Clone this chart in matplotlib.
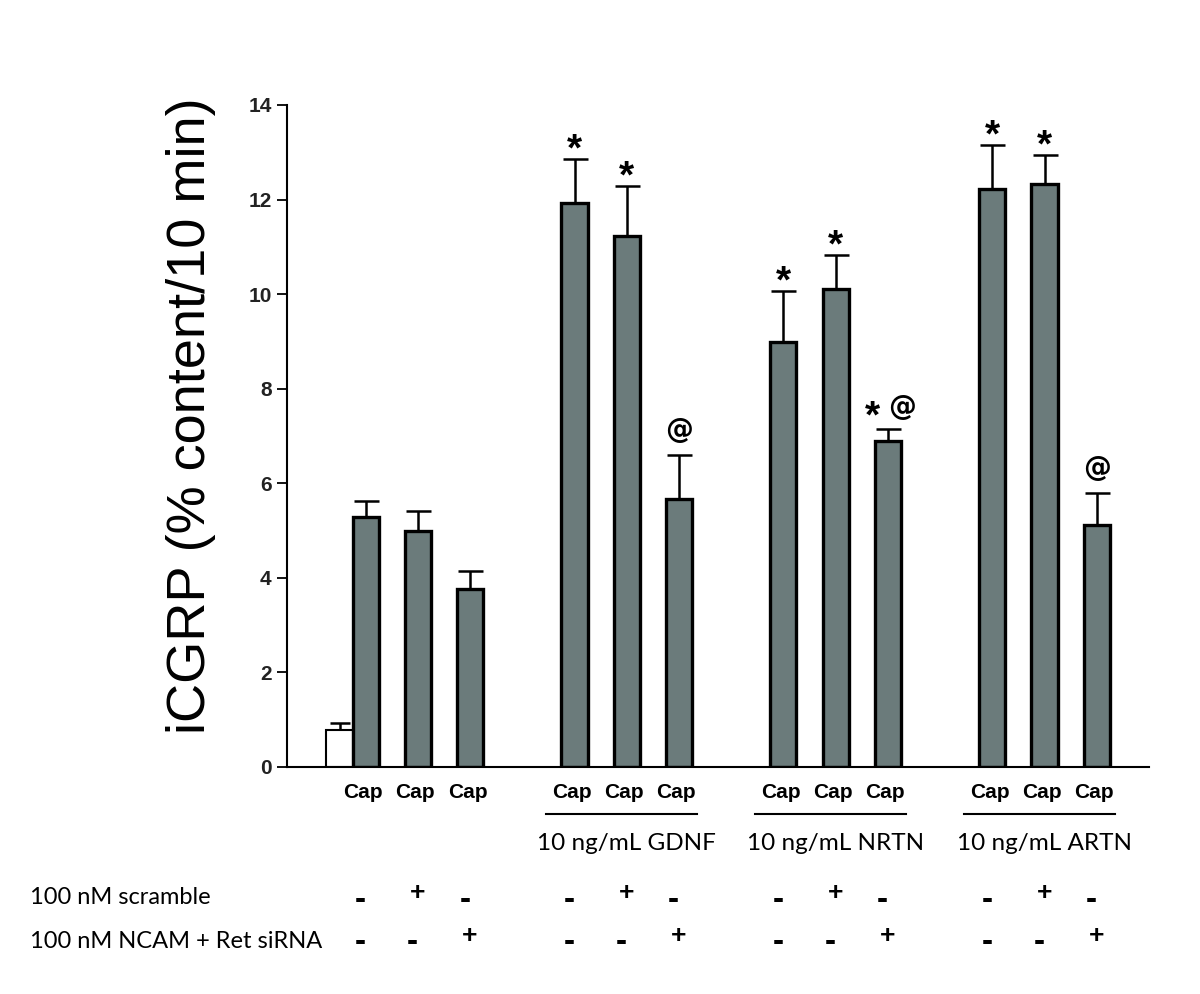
import numpy as np
import matplotlib
matplotlib.use('Agg')
import matplotlib.pyplot as plt
import matplotlib.transforms as mtransforms

# bar values (iCGRP, % content / 10 min) and SEM
basal_value = 0.78
basal_sem = 0.15

cap_values = [5.29, 4.99, 3.76,
              11.93, 11.23, 5.67,
              8.99, 10.11, 6.89,
              12.22, 12.33, 5.12]
cap_sem = [0.33, 0.42, 0.38,
           0.93, 1.06, 0.93,
           1.08, 0.72, 0.26,
           0.93, 0.61, 0.67]

# significance marks above each Cap bar
stars = [False, False, False,
         True, True, False,
         True, True, True,
         True, True, False]
ats = [False, False, False,
       False, False, True,
       False, False, True,
       False, False, True]

# treatment table
scramble = ['-', '+', '-'] * 4
sirna = ['-', '-', '+'] * 4
group_labels = ['10 ng/mL GDNF', '10 ng/mL NRTN', '10 ng/mL ARTN']
row_labels = ['100 nM scramble', '100 nM NCAM + Ret siRNA']

bar_color = '#6b7b7b'

# slot positions of the Cap bars: 3 groups of 3 with a 1-slot gap
x = np.array([0, 1, 2, 4, 5, 6, 8, 9, 10, 12, 13, 14], dtype=float)
width = 0.5

fig = plt.figure(figsize=(12, 9.94), dpi=100)
ax = fig.add_axes([0.239, 0.2284, 0.9575 - 0.239, 0.8944 - 0.2284])

# basal (white) bar sits right next to the first Cap bar
ax.bar(x[0] - width, basal_value, width=width, color='white',
       edgecolor='black', linewidth=1.5, zorder=2)
ax.errorbar(x[0] - width, basal_value, yerr=[[0], [basal_sem]], fmt='none',
            ecolor='black', elinewidth=1.8, capsize=7, capthick=1.8, zorder=1)

ax.bar(x, cap_values, width=width, color=bar_color, edgecolor='black',
       linewidth=2.4, zorder=2)
ax.errorbar(x, cap_values, yerr=[np.zeros(len(x)), cap_sem], fmt='none',
            ecolor='black', elinewidth=1.8, capsize=9, capthick=1.8, zorder=1)

for xi, v, s, st, at in zip(x, cap_values, cap_sem, stars, ats):
    top = v + s
    if st and at:
        ax.annotate('*', (xi, top), xytext=(-11, 8), textcoords='offset points',
                    ha='center', va='center', fontsize=28, fontweight='bold',
                    family='Liberation Sans')
        ax.annotate('@', (xi, top), xytext=(10, 16), textcoords='offset points',
                    ha='center', va='center', fontsize=20, fontweight='bold',
                    family='DejaVu Sans')
    elif st:
        ax.annotate('*', (xi, top), xytext=(0, 6), textcoords='offset points',
                    ha='center', va='center', fontsize=28, fontweight='bold',
                    family='Liberation Sans')
    elif at:
        ax.annotate('@', (xi, top), xytext=(0, 18), textcoords='offset points',
                    ha='center', va='center', fontsize=20, fontweight='bold',
                    family='DejaVu Sans')

ax.set_xlim(-1.51, 15.0)
ax.set_ylim(0, 14)
ax.set_yticks(np.arange(0, 15, 2))
ax.set_xticks([])
ax.tick_params(axis='y', direction='out', length=7, width=1.3,
               labelsize=15, pad=4)
for lab in ax.get_yticklabels():
    lab.set_family('Liberation Sans')
    lab.set_fontweight('bold')
    lab.set_color('#222222')
for side in ['top', 'right']:
    ax.spines[side].set_visible(False)
ax.spines['left'].set_linewidth(1.5)
ax.spines['bottom'].set_linewidth(1.5)

ax.set_ylabel('iCGRP (% content/10 min)', fontsize=39, family='Liberation Sans')
ax.yaxis.set_label_coords(-0.082, 0.53)

# text below the axis: x in data units, y in figure units
trans = mtransforms.blended_transform_factory(ax.transData, fig.transFigure)
for xi in x:
    fig.text(xi - 0.05, 1 - 792 / 994, 'Cap', transform=trans, ha='center',
             va='center', fontsize=15, fontweight='bold',
             family='Liberation Sans')

for g, label in enumerate(group_labels):
    gx = x[3 + 3 * g: 6 + 3 * g]
    fig.add_artist(plt.Line2D([gx[0] - 0.55, gx[-1] + 0.35],
                              [1 - 814 / 994, 1 - 814 / 994],
                              transform=trans, color='black', linewidth=1.5))
    fig.text(gx[1], 1 - 843 / 994, label, transform=trans, ha='center',
             va='center', fontsize=17.5, family='Lato')

fig.text(0.025, 1 - 898 / 994, row_labels[0], ha='left', va='center',
         fontsize=17, family='Lato')
fig.text(0.025, 1 - 941 / 994, row_labels[1], ha='left', va='center',
         fontsize=17, family='Lato')

for xi, s1, s2 in zip(x, scramble, sirna):
    for sign, yrow in ((s1, 898), (s2, 941)):
        if sign == '+':
            fig.text(xi, 1 - (yrow - 5) / 994, '+', transform=trans, ha='center',
                     va='center', fontsize=19, fontweight='bold',
                     family='Liberation Sans')
        else:
            fig.text(xi - 0.1, 1 - (yrow + 2) / 994, '-', transform=trans,
                     ha='center', va='center', fontsize=24, fontweight='bold',
                     family='Liberation Sans')

fig.savefig('out.png', dpi=100)
